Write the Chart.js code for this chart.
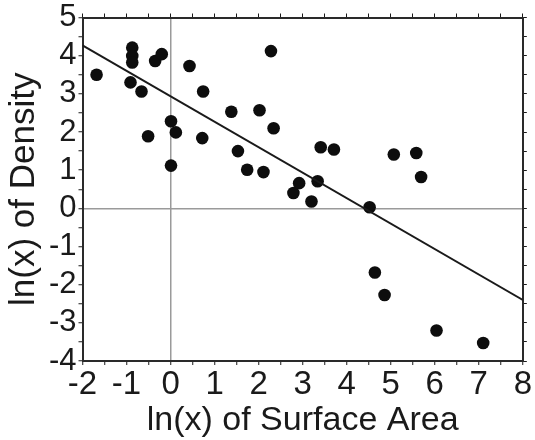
<!DOCTYPE html>
<html>
<head>
<meta charset="utf-8">
<script src="https://cdn.jsdelivr.net/npm/chart.js@4"></script>
<style>
  body { margin: 0; background: #fff; }
  canvas { display: block; }
</style>
</head>
<body>
<canvas id="chart" width="535" height="440"></canvas>
<script>
// ln(surface area) vs ln(density)
var areaX = [-1.68, -0.87, -0.87, -0.87, -0.91, -0.66, -0.51, -0.35, -0.20, 0.01, 0.12, 0.01,
             0.43, 0.74, 0.72, 1.38, 1.53, 1.74, 2.02, 2.28, 2.34, 2.11, 2.79, 2.92,
             3.20, 3.34, 3.41, 3.71, 4.52, 5.07, 5.58, 5.69, 4.64, 4.86, 6.04, 7.10];
var densityY = [3.50, 4.21, 3.99, 3.82, 3.30, 3.06, 1.89, 3.86, 4.04, 2.28, 1.99, 1.12,
                3.73, 3.06, 1.84, 2.53, 1.50, 1.01, 2.57, 4.12, 2.10, 0.95, 0.40, 0.66,
                0.18, 0.71, 1.60, 1.54, 0.03, 1.41, 1.45, 0.82, -1.68, -2.27, -3.20, -3.53];

// regression line end points
var fitX = [-2, 8];
var fitY = [4.27, -2.40];

var xMin = -2, xMax = 8, yMin = -4, yMax = 5;

var ink = '#1a1a1a';
var font = 'Liberation Sans, Arial, Helvetica, sans-serif';

function pts(xs, ys) {
  return xs.map(function(x, i) { return {x: x, y: ys[i]}; });
}

function intLabel(v) { return Number.isInteger(v) ? v : ''; }

function zeroLine(c) {
  return c.tick && c.tick.value === 0 ? '#9a9a9a' : 'rgba(0,0,0,0)';
}

var edge = { display: true, color: '#2a2a2a', width: 2 };

new Chart('chart', {
  type: 'scatter',
  data: {
    datasets: [{
      data: pts(areaX, densityY),
      backgroundColor: '#0d0d0d',
      borderWidth: 0,
      pointRadius: 6.3,
      order: 2
    }, {
      type: 'line',
      data: pts(fitX, fitY),
      borderColor: ink,
      borderWidth: 2,
      pointRadius: 0,
      fill: false,
      order: 1
    }]
  },
  options: {
    responsive: false,
    animation: false,
    layout: { padding: 0 },
    plugins: { legend: { display: false }, tooltip: { enabled: false } },
    scales: {
      x: {
        type: 'linear', position: 'bottom', min: xMin, max: xMax,
        afterFit: function(s) { s.height = 79; },
        border: edge,
        grid: { color: zeroLine, lineWidth: 1.5, tickColor: ink, tickWidth: 1, tickLength: 4 },
        ticks: { stepSize: 0.5, autoSkip: false, maxRotation: 0, padding: 3, color: ink,
                 font: { family: font, size: 33, lineHeight: 1 }, callback: intLabel },
        title: { display: true, text: 'ln(x) of Surface Area', color: ink,
                 font: { family: font, size: 34, lineHeight: 1 }, padding: { top: 0, bottom: 2 } }
      },
      y: {
        type: 'linear', position: 'left', min: yMin, max: yMax,
        afterFit: function(s) { s.width = 82.5; },
        border: edge,
        grid: { color: zeroLine, lineWidth: 1.5, tickColor: ink, tickWidth: 1, tickLength: 4 },
        ticks: { stepSize: 0.5, autoSkip: false, padding: 2, color: ink,
                 font: { family: font, size: 31, lineHeight: 1 }, callback: intLabel },
        title: { display: true, text: 'ln(x) of Density', color: ink,
                 font: { family: font, size: 35, lineHeight: 1 }, padding: { top: 7, bottom: 0 } }
      },
      x2: {
        type: 'linear', position: 'top', min: xMin, max: xMax,
        afterFit: function(s) { s.height = 16.5; },
        border: edge,
        grid: { drawOnChartArea: false, tickColor: ink, tickWidth: 1, tickLength: 4 },
        ticks: { stepSize: 0.5, autoSkip: false, display: false }
      },
      y2: {
        type: 'linear', position: 'right', min: yMin, max: yMax,
        afterFit: function(s) { s.width = 7.5; },
        border: edge,
        grid: { drawOnChartArea: false, tickColor: ink, tickWidth: 1, tickLength: 4 },
        ticks: { stepSize: 0.5, autoSkip: false, display: false }
      }
    }
  }
});
</script>
</body>
</html>
